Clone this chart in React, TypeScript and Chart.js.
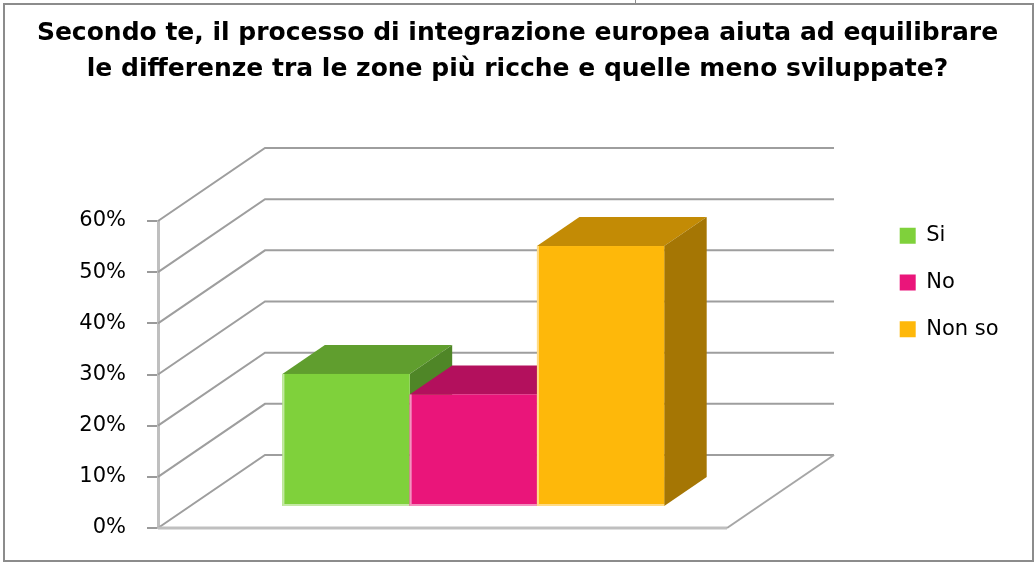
import React, { useEffect, useRef } from 'react';
import { Chart, registerables } from 'chart.js';

Chart.register(...registerables);

// ---- data ----
const categories = [''];
const seriesNames = ['Si', 'No', 'Non so'];
const seriesValues = [0.26, 0.22, 0.51];
const yTickLabels = ['0%', '10%', '20%', '30%', '40%', '50%', '60%'];
const titleLines = [
  'Secondo te, il processo di integrazione europea aiuta ad equilibrare',
  'le differenze tra le zone più ricche e quelle meno sviluppate?',
];

// ---- styles ----
const frontColors = ['#7FD13B', '#EA157A', '#FEB80A'];
const topColors = ['#609E2E', '#B3105D', '#C38B05'];
const sideColors = ['#4F8627', '#94104E', '#A57604'];
const edgeColors = ['#C4E9A4', '#F48FBE', '#FFDB85'];

const DEPTH_X = 107;
const DEPTH_Y = -73;
const BAR_T0 = 0.288;
const BAR_T1 = 0.685;

function poly(ctx: CanvasRenderingContext2D, pts: number[][], color: string) {
  ctx.beginPath();
  ctx.moveTo(pts[0][0], pts[0][1]);
  for (let i = 1; i < pts.length; i++) ctx.lineTo(pts[i][0], pts[i][1]);
  ctx.closePath();
  ctx.fillStyle = color;
  ctx.fill();
}

const threeDPlugin = {
  id: 'threeD',
  beforeDraw(chart: any) {
    const ctx = chart.ctx as CanvasRenderingContext2D;
    ctx.save();
    ctx.fillStyle = '#ffffff';
    ctx.fillRect(0, 0, chart.width, chart.height);
    ctx.strokeStyle = '#8c8c8c';
    ctx.lineWidth = 2;
    ctx.strokeRect(4, 4, 1029, 557);
    ctx.lineWidth = 1;
    ctx.beginPath();
    ctx.moveTo(635.5, 0);
    ctx.lineTo(635.5, 4);
    ctx.stroke();
    ctx.restore();
  },
  beforeDatasetsDraw(chart: any) {
    const ctx = chart.ctx as CanvasRenderingContext2D;
    const ca = chart.chartArea;
    const ys = chart.scales.y;
    ctx.save();
    // back wall grid lines + side diagonals
    ys.ticks.forEach((t: any) => {
      const yf = ys.getPixelForValue(t.value);
      ctx.strokeStyle = '#9e9e9e';
      ctx.lineWidth = 2;
      ctx.beginPath();
      ctx.moveTo(ca.left, yf);
      ctx.lineTo(ca.left + DEPTH_X, yf + DEPTH_Y);
      ctx.lineTo(ca.right + DEPTH_X, yf + DEPTH_Y);
      ctx.stroke();
    });
    // floor front + right edge
    const y0 = ys.getPixelForValue(0);
    ctx.strokeStyle = '#bfbfbf';
    ctx.lineWidth = 3;
    ctx.beginPath();
    ctx.moveTo(ca.left, y0);
    ctx.lineTo(ca.right, y0);
    ctx.stroke();
    ctx.strokeStyle = '#a6a6a6';
    ctx.lineWidth = 2;
    ctx.beginPath();
    ctx.moveTo(ca.right, y0);
    ctx.lineTo(ca.right + DEPTH_X, y0 + DEPTH_Y);
    ctx.stroke();

    // 3D bars
    const ox = DEPTH_X * BAR_T0;
    const oy = DEPTH_Y * BAR_T0;
    const dx = DEPTH_X * (BAR_T1 - BAR_T0);
    const dy = DEPTH_Y * (BAR_T1 - BAR_T0);
    chart.data.datasets.forEach((_ds: any, i: number) => {
      const meta = chart.getDatasetMeta(i);
      meta.data.forEach((el: any) => {
        const { x, y, base, width } = el.getProps(['x', 'y', 'base', 'width'], true);
        const l = x - width / 2 + ox;
        const r = x + width / 2 + ox;
        const top = y + oy;
        const bot = base + oy;
        poly(ctx, [[l, top], [r, top], [r + dx, top + dy], [l + dx, top + dy]], topColors[i]);
        poly(ctx, [[r, top], [r + dx, top + dy], [r + dx, bot + dy], [r, bot]], sideColors[i]);
        ctx.fillStyle = frontColors[i];
        ctx.fillRect(l, top, r - l, bot - top);
        // light edges (left + bottom)
        ctx.strokeStyle = edgeColors[i];
        ctx.lineWidth = 2;
        ctx.beginPath();
        ctx.moveTo(l + 1, top);
        ctx.lineTo(l + 1, bot - 1);
        ctx.lineTo(r, bot - 1);
        ctx.stroke();
      });
    });
    ctx.restore();
    return false;
  },
};

export default function App() {
  const ref = useRef<HTMLCanvasElement | null>(null);

  useEffect(() => {
    document.body.style.margin = '0';
    if (!ref.current) return;
    const chart = new Chart(ref.current, {
      type: 'bar',
      data: {
        labels: categories,
        datasets: seriesNames.map((name, i) => ({
          label: name,
          data: [seriesValues[i]],
          backgroundColor: frontColors[i],
          borderWidth: 0,
          categoryPercentage: 0.671,
          barPercentage: 1,
        })),
      },
      options: {
        responsive: false,
        animation: false,
        devicePixelRatio: 1,
        layout: { padding: 0 },
        scales: {
          x: {
            type: 'category',
            display: true,
            grid: { display: false },
            ticks: { display: false },
            border: { display: false },
            afterFit: (s: any) => {
              s.height = 37;
            },
          },
          y: {
            type: 'linear',
            position: 'left',
            min: 0,
            max: 0.6,
            ticks: {
              stepSize: 0.1,
              padding: 21,
              color: '#000000',
              font: { family: 'DejaVu Sans', size: 21 },
              callback: (_v: any, idx: number) => yTickLabels[idx],
            },
            grid: {
              drawOnChartArea: false,
              drawTicks: true,
              tickLength: 11,
              color: '#9a9a9a',
              lineWidth: 2,
            },
            border: { display: true, color: '#bfbfbf', width: 3 },
            afterFit: (s: any) => {
              s.width = 158;
            },
          },
          // spacer between plot and legend
          gapR: {
            type: 'linear',
            position: 'right',
            display: true,
            weight: 0,
            grid: { display: false },
            ticks: { display: false },
            border: { display: false },
            afterFit: (s: any) => {
              s.width = 147;
            },
          },
          // spacer outside the legend, fills the rest to the canvas edge
          edgeR: {
            type: 'linear',
            position: 'right',
            display: true,
            weight: 2000,
            grid: { display: false },
            ticks: { display: false },
            border: { display: false },
            afterFit: (s: any) => {
              const lw = s.chart.legend ? s.chart.legend.width : 0;
              s.width = Math.max(0, 161 - lw);
            },
          },
        },
        plugins: {
          title: {
            display: true,
            text: titleLines,
            color: '#000000',
            font: { family: 'DejaVu Sans', size: 25, weight: 'bold', lineHeight: 36 / 25 },
            padding: { top: 15, bottom: 134 },
          },
          legend: {
            display: true,
            position: 'right',
            align: 'center',
            fullSize: true,
            labels: {
              boxWidth: 16,
              boxHeight: 16,
              padding: 25.7,
              color: '#000000',
              font: { family: 'DejaVu Sans', size: 21 },
            },
          },
          tooltip: { enabled: false },
        },
      },
      plugins: [threeDPlugin],
    } as any);
    return () => chart.destroy();
  }, []);

  return (
    <div style={{ width: 1035, height: 565, overflow: 'hidden' }}>
      <canvas ref={ref} width={1035} height={565} style={{ display: 'block' }} />
    </div>
  );
}
